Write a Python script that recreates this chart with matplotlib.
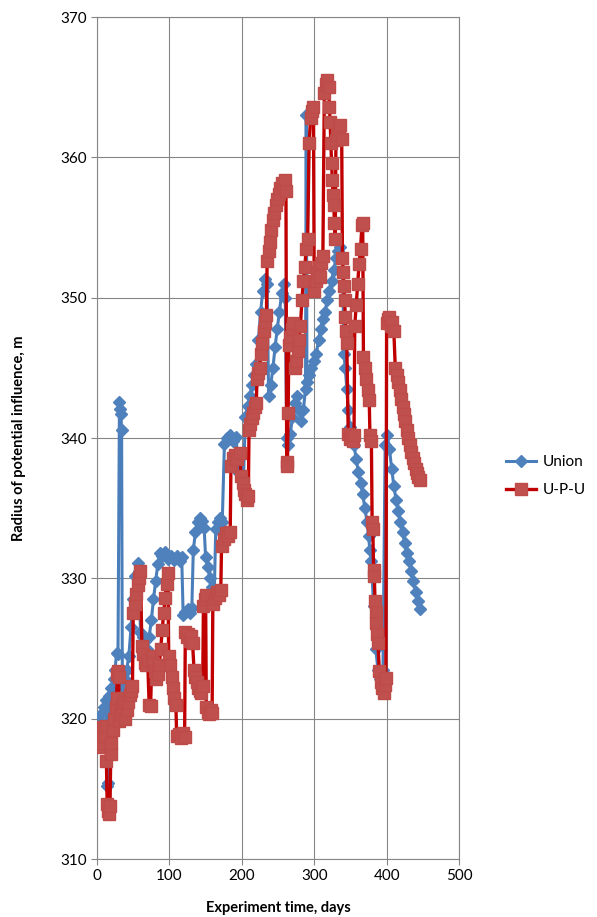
import matplotlib
matplotlib.use("Agg")
import matplotlib.pyplot as plt

# Union series: experiment day -> radius, m
union_days = [0, 3, 6, 9, 12, 14, 15, 17, 20, 23, 25, 27, 29, 31, 32, 33, 34, 35, 38, 41,
              44, 47, 50, 53, 56, 58, 60, 63, 66, 69, 72, 75, 78, 81, 84, 87, 90, 94, 98, 102,
              106, 110, 114, 117, 119, 122, 125, 128, 131, 133, 136, 139, 142, 145, 148, 150,
              153, 156, 159, 162, 164, 167, 170, 173, 176, 180, 184, 188, 192, 196, 199, 202,
              205, 208, 211, 214, 217, 220, 223, 226, 229, 232, 235, 237, 240, 243, 246, 249,
              252, 255, 258, 260, 262, 264, 267, 270, 273, 276, 279, 282, 285, 288, 289, 290,
              293, 296, 300, 303, 306, 309, 312, 315, 318, 321, 324, 327, 330, 333, 336, 339,
              341, 343, 345, 347, 349, 352, 355, 358, 361, 364, 367, 370, 373, 375, 377, 379,
              382, 385, 388, 391, 393, 395, 398, 401, 404, 407, 410, 413, 416, 419, 422, 425,
              428, 431, 434, 437, 440, 443, 446]
union_radius = [319.3, 319.8, 320.3, 320.8, 321.3, 315.2, 315.4, 321.6, 322.2, 322.8, 323.5,
                324.7, 324.6, 342.6, 342.1, 341.7, 340.6, 322.3, 322.8, 323.5,
                324.5, 326.5, 328.5, 330.2, 331.1, 330.5, 326.2, 325.8, 325.5, 325.0, 325.8,
                327.0, 328.5, 329.8, 331.0, 331.8, 331.6, 331.9, 331.4, 331.6,
                331.3, 331.6, 331.2, 331.5, 327.4, 327.6, 327.8, 327.5, 327.9, 332.0, 333.3,
                334.0, 334.3, 334.1, 333.6, 331.5,
                330.8, 330.0, 329.4, 329.0, 333.5, 334.0, 334.3, 334.0, 339.6, 340.0, 340.2,
                339.8, 340.1, 337.5, 337.0, 336.6,
                341.5, 342.3, 343.0, 343.8, 344.5, 345.3, 347.0, 349.0, 350.5, 351.3, 351.0,
                343.0, 343.8, 345.0, 346.5, 347.8,
                349.0, 350.3, 351.0, 350.0, 340.0, 339.5, 340.3, 341.5, 342.5, 343.0, 342.0,
                341.2, 342.0, 343.5, 363.0, 344.0,
                344.5, 345.0, 345.5, 346.0, 347.0, 347.8, 348.5, 349.0, 349.8, 350.5, 351.2,
                352.0, 352.8, 353.3, 353.6, 353.0,
                346.0, 345.0, 343.5, 342.0, 340.8, 340.0, 339.5, 338.5, 337.6, 336.8, 336.0,
                335.0, 334.0, 333.0, 332.0, 331.2,
                328.0, 325.0, 323.5, 322.8, 322.5, 323.5, 339.5, 340.2, 339.2, 337.8, 336.6,
                335.6, 334.8, 334.0, 333.3, 332.5,
                331.8, 331.2, 330.5, 329.8, 329.0, 328.4, 327.8]

# U-P-U series
upu_days = [0, 2, 4, 6, 8, 10, 12, 13, 14, 15, 17, 18, 19, 20, 22, 24, 26, 27, 28, 29, 30,
            31, 33, 35, 37, 39, 41, 43, 45, 47, 49, 50, 52, 54, 56, 58, 60, 62, 64, 66, 68,
            70, 72, 74, 76, 78, 80, 82, 84, 86, 88, 90, 92, 94, 96, 98, 99, 101, 103, 105,
            107, 109, 110, 113, 116, 119, 121, 122, 124, 126, 128, 130, 132, 134, 136, 138,
            140, 142, 144, 146, 147, 149, 150, 151, 153, 155, 157, 159, 160, 163, 166, 169,
            171, 172, 175, 178, 181, 184, 185, 188, 191, 194, 197, 199, 201, 203, 205, 207,
            209, 210, 212, 214, 216, 218, 220, 221, 223, 225, 226, 228, 230, 232, 234, 235,
            237, 239, 241, 243, 245, 247, 249, 251, 253, 255, 257, 259, 261, 262, 263, 264,
            265, 267, 269, 271, 273, 275, 277, 279, 281, 283, 285, 287, 289, 291, 293, 295,
            297, 299, 300, 302, 304, 306, 308, 310, 312, 314, 316, 318, 320, 321, 322, 323,
            324, 325, 326, 327, 328, 329, 330, 332, 334, 336, 338, 339, 340, 341, 342, 343,
            344, 345, 347, 349, 351, 353, 355, 356, 358, 360, 362, 364, 366, 367, 368, 370,
            372, 374, 376, 377, 379, 380, 381, 382, 383, 384, 385, 386, 387, 388, 390, 392,
            394, 396, 398, 399, 400, 402, 404, 406, 408, 410, 412, 414, 416, 418, 420, 422,
            424, 426, 428, 430, 432, 434, 436, 438, 440, 442, 444, 446]
upu_radius = [318.5, 318.0, 319.0, 318.3, 319.4, 318.8, 319.5, 317.0, 313.9, 313.4, 313.2,
              313.8, 317.5, 318.3, 319.2, 320.0, 320.8, 321.5, 323.2, 323.4, 323.0,
              319.8, 320.3, 320.8, 321.2, 320.0, 320.6, 321.2, 321.7, 322.0, 322.3, 327.5,
              328.2, 328.9, 329.5, 330.0, 330.5, 325.2, 324.6, 324.0, 323.8,
              324.2, 321.0, 320.9, 324.5, 324.0, 323.4, 322.8, 323.2, 323.8, 325.0, 326.3,
              327.5, 328.6, 329.6, 330.4, 324.5, 323.8, 323.0, 322.2,
              321.5, 321.0, 318.8, 318.9, 318.6, 319.0, 318.7, 326.2, 325.8, 326.0, 325.5,
              325.9, 325.4, 323.5, 323.0, 322.6,
              322.2, 322.0, 321.8, 322.3, 328.0, 328.5, 328.8, 320.8, 320.5, 320.3, 320.6,
              320.4, 328.2, 328.6, 329.0, 328.8,
              329.2, 332.3, 332.8, 333.2, 333.0, 333.3, 338.0, 338.6, 338.8, 338.5, 338.9,
              337.3, 336.8, 336.3, 336.0, 335.6,
              335.9, 340.6, 341.0, 341.4, 341.8, 342.2, 342.5, 344.2, 344.6, 345.0, 346.0,
              346.8, 347.6, 348.3, 348.8, 352.6,
              353.3, 354.0, 354.8, 355.5, 356.0, 356.6, 357.0, 357.4, 357.8, 358.2, 358.0,
              358.4, 357.6, 338.3, 338.0, 341.8,
              346.6, 347.2, 347.8, 348.2, 345.0, 345.5, 346.2, 347.0, 348.0, 349.8, 351.2,
              352.2, 353.5, 354.2, 361.0, 362.8,
              363.3, 363.6, 350.5, 351.2, 351.8, 352.2, 351.5, 352.5, 353.0, 364.6, 365.2,
              365.5, 365.0, 363.6, 362.5, 361.0,
              359.6, 358.4, 357.3, 356.6, 355.3, 354.2, 361.2, 361.6, 362.0, 362.3, 361.3,
              352.8, 351.8, 350.8, 349.8, 348.6,
              347.6, 346.8, 340.3, 339.9, 340.1, 339.8, 340.2, 348.0, 349.5, 351.0, 352.4,
              353.5, 355.2, 355.3, 345.8, 345.0,
              344.2, 343.4, 342.7, 340.2, 339.8, 334.0, 333.5, 330.6, 330.2, 328.4, 327.6,
              326.8, 326.0, 325.4, 323.4, 322.6,
              322.2, 321.8, 322.4, 322.9, 348.2, 348.5, 348.6, 348.0, 348.3, 347.6, 345.0,
              344.5, 344.0, 343.4, 342.8, 342.2,
              341.7, 341.2, 340.6, 340.0, 339.5, 339.0, 338.6, 338.2, 337.8, 337.5, 337.2,
              337.0]

x_ticks = [0, 100, 200, 300, 400, 500]
y_ticks = [310, 320, 330, 340, 350, 360, 370]

plt.rcParams['font.family'] = ['Lato', 'DejaVu Sans']

fig = plt.figure(figsize=(5.97, 9.17), dpi=100)
ax = fig.add_axes([97 / 597, 1 - 859 / 917, (459 - 97) / 597, (859 - 17) / 917])

grid_c = '#868686'
ax.set_xlim(0, 500)
ax.set_ylim(310, 370)
ax.set_xticks(x_ticks)
ax.set_yticks(y_ticks)
ax.grid(True, color=grid_c, lw=0.8)
ax.set_axisbelow(True)
for s in ax.spines.values():
    s.set_color(grid_c)
    s.set_linewidth(0.8)
ax.tick_params(length=4, color=grid_c, labelsize=11, labelcolor='black', pad=3)

ax.plot(union_days, union_radius, color='#4A7EBB', lw=2.2, marker='D', ms=6.5,
        mfc='#4F81BD', mec='#4F81BD', label='Union', zorder=3)
ax.plot(upu_days, upu_radius, color='#C00000', lw=2.4, marker='s', ms=9,
        mfc='#C0504D', mec='#BE4B48', label='U-P-U', zorder=4)

fig.text(278 / 597, 1 - 908 / 917, 'Experiment time, days', ha='center', va='center',
         fontsize=10.5, fontweight='bold')
fig.text(19 / 597, 1 - 438 / 917, 'Radius of potential influence, m', ha='center',
         va='center', rotation=90, fontsize=10.5, fontweight='bold')

fig.legend(loc='center left', bbox_to_anchor=(492 / 597, 1 - 476 / 917), frameon=False,
           fontsize=11, handlelength=2.0, labelspacing=0.9, handletextpad=0.4)

fig.savefig('out.png', dpi=100, facecolor='white')
